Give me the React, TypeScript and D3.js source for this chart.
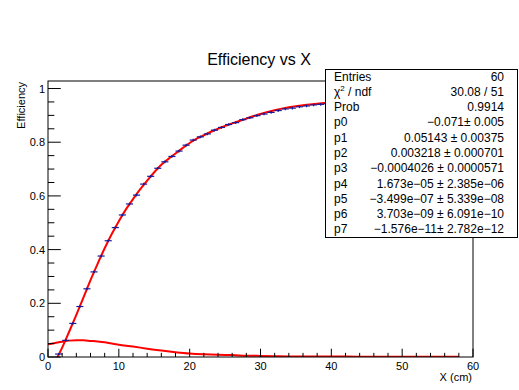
import React from "react";
import * as d3 from "d3";

// Efficiency points (bin centers, values)
const effX = [1.5, 2.5, 3.5, 4.5, 5.5, 6.5, 7.5, 8.5, 9.5, 10.5, 11.5, 12.5, 13.5, 14.5, 15.5, 16.5, 17.5, 18.5, 19.5, 20.5, 21.5, 22.5, 23.5, 24.5, 25.5, 26.5, 27.5, 28.5, 29.5, 30.5, 31.5, 32.5, 33.5, 34.5, 35.5, 36.5, 37.5, 38.5, 39.5, 40.5];
const effY = [0.011, 0.062, 0.125, 0.188, 0.254, 0.317, 0.376, 0.433, 0.482, 0.529, 0.570, 0.603, 0.644, 0.673, 0.703, 0.727, 0.747, 0.767, 0.789, 0.808, 0.820, 0.831, 0.845, 0.855, 0.866, 0.873, 0.884, 0.891, 0.899, 0.905, 0.911, 0.918, 0.924, 0.927, 0.932, 0.935, 0.939, 0.941, 0.944, 0.947];
const effErr = [0.004, 0.005, 0.005, 0.005, 0.005, 0.005, 0.005, 0.005, 0.005, 0.005, 0.005, 0.005, 0.005, 0.005, 0.005, 0.005, 0.005, 0.005, 0.005, 0.005, 0.005, 0.005, 0.005, 0.005, 0.005, 0.005, 0.005, 0.005, 0.005, 0.005, 0.005, 0.005, 0.005, 0.005, 0.005, 0.005, 0.005, 0.005, 0.005, 0.005];

// Fit curve
const fitX = [1.0, 2, 3, 4, 5, 6, 7, 8, 9, 10, 11, 12, 13, 14, 15, 16, 17, 18, 19, 20, 21, 22, 23, 24, 25, 26, 27, 28, 30, 32, 34, 36, 38, 40, 42];
const fitY = [-0.017, 0.035, 0.095, 0.157, 0.221, 0.286, 0.347, 0.405, 0.458, 0.506, 0.550, 0.588, 0.624, 0.657, 0.688, 0.716, 0.738, 0.758, 0.778, 0.797, 0.813, 0.826, 0.839, 0.850, 0.861, 0.870, 0.879, 0.888, 0.905, 0.919, 0.930, 0.938, 0.943, 0.948, 0.952];

// Lower distribution curve
const lowX = [0, 1, 2, 3, 4, 5, 6, 7, 8, 9, 10, 12, 14, 16, 18, 20, 22, 24, 26, 28, 30, 32, 35, 38, 42, 46, 50, 54, 58];
const lowY = [0.047, 0.052, 0.057, 0.061, 0.062, 0.062, 0.060, 0.058, 0.055, 0.050, 0.046, 0.039, 0.031, 0.024, 0.018, 0.013, 0.010, 0.008, 0.007, 0.005, 0.004, 0.003, 0.002, 0.002, 0.0015, 0.001, 0.001, 0.001, 0.001];

const xTicks = [0, 10, 20, 30, 40, 50, 60];
const yTicks = [0, 0.2, 0.4, 0.6, 0.8, 1];

const statLabels = ["Entries", "χ2 / ndf", "Prob", "p0", "p1", "p2", "p3", "p4", "p5", "p6", "p7"];
const statValues = ["60", "30.08 / 51", "0.9914", "−0.071± 0.005", "0.05143 ± 0.00375", "0.003218 ± 0.000701", "−0.0004026 ± 0.0000571", "1.673e−05 ± 2.385e−06", "−3.499e−07 ± 5.339e−08", "3.703e−09 ± 6.091e−10", "−1.576e−11± 2.782e−12"];

const W = 519, H = 390;
const L = 48, R = 473, T = 81, B = 357;
const FONT = "'Liberation Sans', Arial, Helvetica, sans-serif";

export default function App() {
  const x = d3.scaleLinear().domain([0, 60]).range([L, R]);
  const y = d3.scaleLinear().domain([0, 1.028]).range([B, T]);

  const fitLine = d3.line<number>().x((_, i) => x(fitX[i])).y((d) => y(d)).curve(d3.curveMonotoneX);
  const lowLine = d3.line<number>().x((_, i) => x(lowX[i])).y((d) => y(d)).curve(d3.curveMonotoneX);

  const xMinor = d3.range(0, 61, 2).filter((v) => v % 10 !== 0);
  const yMinor = d3.range(0, 21).map((i) => i * 0.05).filter((v) => Math.abs(v * 5 - Math.round(v * 5)) > 1e-6);

  const yTickLen = 0.03 * (R - L);
  const xTickLen = 0.03 * (B - T);

  const boxL = 325, boxT = 69, boxR = 517, boxB = 237;
  const rowH = (boxB - boxT) / statLabels.length;

  return (
    <div style={{ position: "absolute", left: 0, top: 0 }}>
      <svg width={W} height={H} style={{ display: "block", background: "#fff" }} fontFamily={FONT}>
        <defs>
          <clipPath id="frame">
            <rect x={L} y={T} width={R - L} height={B - T} />
          </clipPath>
        </defs>
        <rect x={0} y={0} width={W} height={H} fill="#fff" />
        {/* title */}
        <text x={259} y={65} fontSize={16} textAnchor="middle" fill="#000">Efficiency vs X</text>

        {/* curves */}
        <g clipPath="url(#frame)" fill="none" stroke="#ff0000" strokeWidth={2}>
          <path d={lowLine(lowY) || ""} />
          <path d={fitLine(fitY) || ""} />
        </g>

        {/* points */}
        <g stroke="#1a1a99" strokeWidth={1.2} clipPath="url(#frame)">
          {effX.map((cx, i) => (
            <g key={i}>
              <line x1={x(cx - 0.5)} x2={x(cx + 0.5)} y1={y(effY[i])} y2={y(effY[i])} />
              <line x1={x(cx)} x2={x(cx)} y1={y(effY[i] - effErr[i])} y2={y(effY[i] + effErr[i])} />
            </g>
          ))}
        </g>

        {/* frame */}
        <rect x={L} y={T} width={R - L} height={B - T} fill="none" stroke="#000" strokeWidth={1} />

        {/* axis ticks */}
        <g stroke="#000" strokeWidth={1}>
          {yTicks.map((v) => (
            <line key={"ym" + v} x1={L} x2={L + yTickLen} y1={y(v)} y2={y(v)} />
          ))}
          {yMinor.map((v) => (
            <line key={"yn" + v} x1={L} x2={L + yTickLen / 2} y1={y(v)} y2={y(v)} />
          ))}
          {xTicks.map((v) => (
            <line key={"xm" + v} x1={x(v)} x2={x(v)} y1={B} y2={B - xTickLen} />
          ))}
          {xMinor.map((v) => (
            <line key={"xn" + v} x1={x(v)} x2={x(v)} y1={B} y2={B - xTickLen / 2} />
          ))}
        </g>
        <g fontSize={11} fill="#000">
          {yTicks.map((v) => (
            <text key={"yl" + v} x={L - 3} y={y(v) + 4} textAnchor="end">{d3.format("~g")(v)}</text>
          ))}
          {xTicks.map((v) => (
            <text key={"xl" + v} x={x(v)} y={370} textAnchor="middle">{v}</text>
          ))}
          <text x={472} y={381} textAnchor="end">X (cm)</text>
          <text transform={`translate(25,${T + 1}) rotate(-90)`} textAnchor="end">Efficiency</text>
        </g>

        {/* stats box */}
        <rect x={boxL + 0.5} y={boxT + 0.5} width={boxR - boxL} height={boxB - boxT} fill="#fff" stroke="#000" strokeWidth={1} />
        <g fontSize={12} fill="#000">
          {statLabels.map((lab, i) => (
            <text key={"sl" + i} x={334} y={boxT + rowH * (i + 0.5) + 4}>
              {i === 1 ? (
                <>
                  <tspan>χ</tspan>
                  <tspan fontSize={8} dy={-5}>2</tspan>
                  <tspan dy={5}> / ndf</tspan>
                </>
              ) : lab}
            </text>
          ))}
          {statValues.map((val, i) => (
            <text key={"sv" + i} x={504} y={boxT + rowH * (i + 0.5) + 4} textAnchor="end">{val}</text>
          ))}
        </g>
      </svg>
    </div>
  );
}
